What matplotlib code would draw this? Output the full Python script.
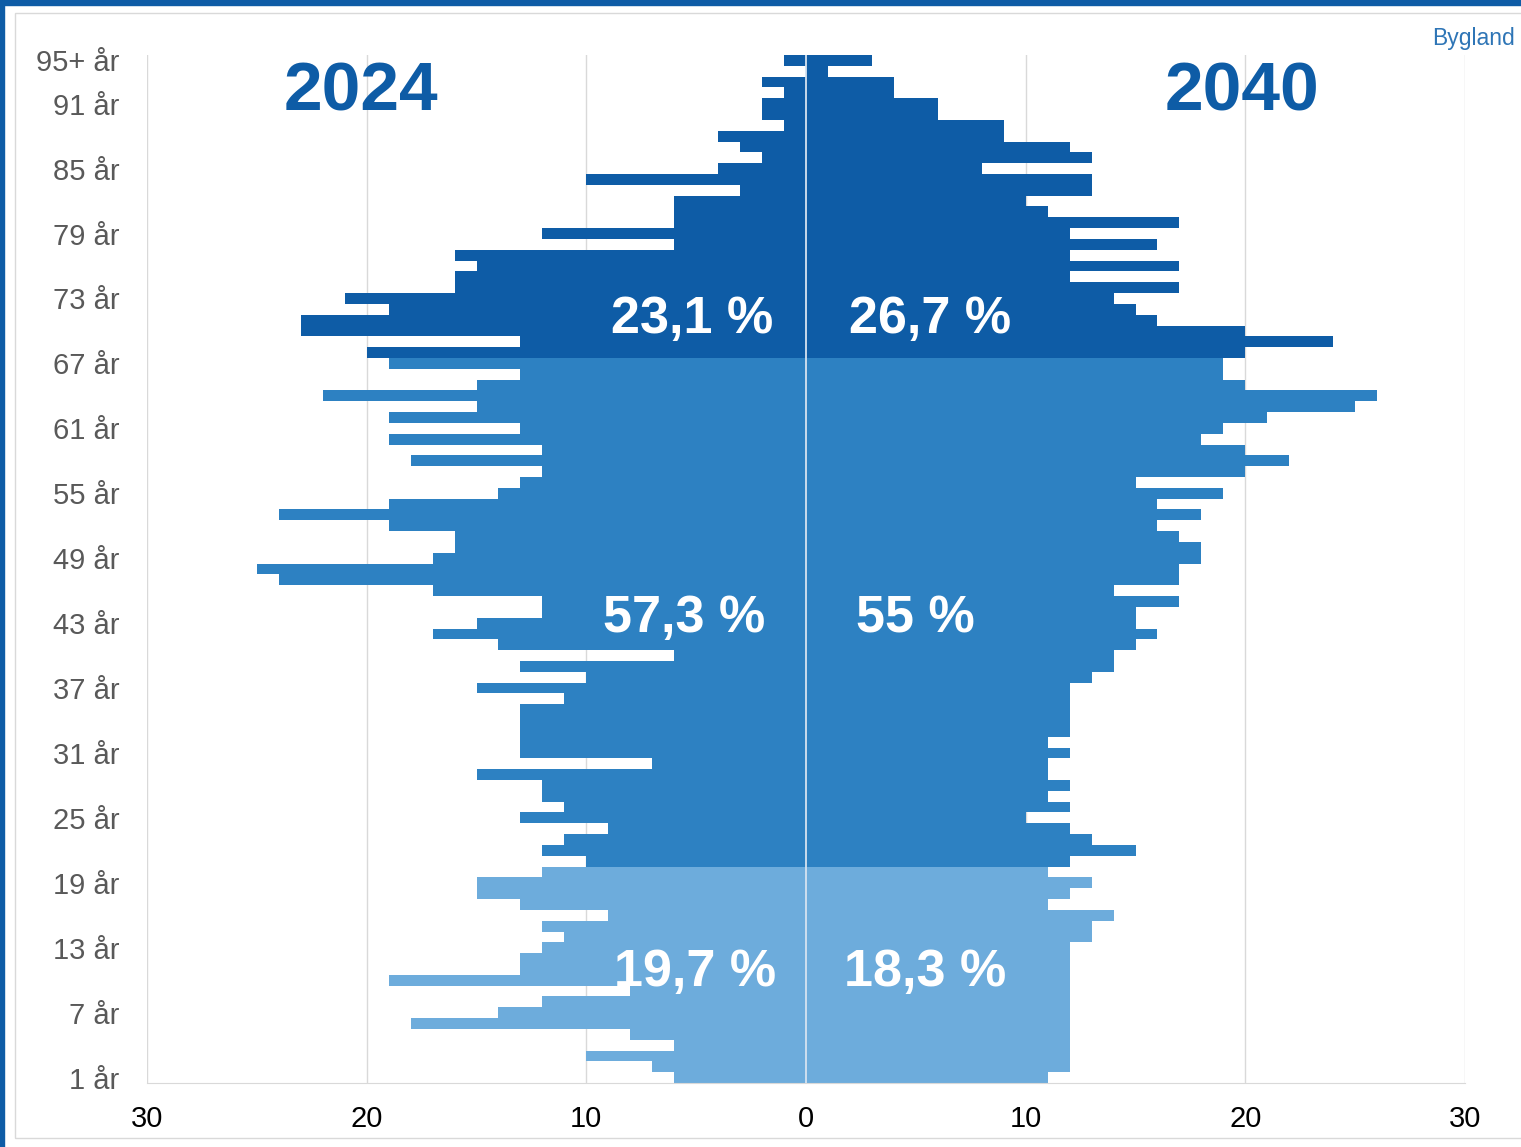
import numpy as np
import matplotlib.pyplot as plt
from matplotlib.patches import Rectangle

plt.rcParams['font.family'] = ['Liberation Sans', 'DejaVu Sans']

# categories bottom -> top (index 0 = "1 år")
ages = [f"{a} år" for a in range(1, 95)] + ["95+ år"]

# population 2024 (left side), bottom -> top
pop_2024 = [6, 7, 10, 6, 8, 18, 14, 12, 8, 19,
            13, 13, 12, 11, 12, 9, 13, 15, 15, 12,
            10, 12, 11, 9, 13, 11, 12, 12, 15, 7,
            13, 13, 13, 13, 13, 11, 15, 10, 13, 6,
            14, 17, 15, 12, 12, 17, 24, 25, 17, 16,
            16, 19, 24, 19, 14, 13, 12, 18, 12, 19,
            13, 19, 15, 22, 15, 13, 19, 20, 13, 23,
            23, 19, 21, 16, 16, 15, 16, 6, 12, 6,
            6, 6, 3, 10, 4, 2, 3, 4, 1, 2,
            2, 1, 2, 0, 1]

# population 2040 (right side), bottom -> top
pop_2040 = [11, 12, 12, 12, 12, 12, 12, 12, 12, 12,
            12, 12, 12, 13, 13, 14, 11, 12, 13, 11,
            12, 15, 13, 12, 10, 12, 11, 12, 11, 11,
            12, 11, 12, 12, 12, 12, 12, 13, 14, 14,
            15, 16, 15, 15, 17, 14, 17, 17, 18, 18,
            17, 16, 18, 16, 19, 15, 20, 22, 20, 18,
            19, 21, 25, 26, 20, 19, 19, 20, 24, 20,
            16, 15, 14, 17, 12, 17, 12, 16, 12, 17,
            11, 10, 13, 13, 8, 13, 12, 9, 9, 6,
            6, 4, 4, 1, 3]

tick_idx = list(range(0, 91, 6)) + [94]
x_ticks = [-30, -20, -10, 0, 10, 20, 30]
x_labels = ["30", "20", "10", "0", "10", "20", "30"]

share_2024 = ["19,7 %", "57,3 %", "23,1 %"]
share_2040 = ["18,3 %", "55 %", "26,7 %"]

c_young = "#6dacdc"
c_work = "#2d81c2"
c_old = "#0e5ca6"

y = np.arange(len(ages))
colors = [c_young if i < 20 else (c_work if i < 67 else c_old) for i in y]

fig = plt.figure(figsize=(15.21, 11.47), dpi=100)
ax = fig.add_axes([147 / 1521, 1 - 1083 / 1147, (1465 - 147) / 1521, (1083 - 55) / 1147])

ax.barh(y, -np.array(pop_2024), height=1.0, color=colors, zorder=2)
ax.barh(y, pop_2040, height=1.0, color=colors, zorder=2)
ax.axvline(0, color="#d6e3f0", lw=1.3, zorder=3)

ax.set_xlim(-30, 30)
ax.set_ylim(-0.5, len(ages) - 0.5)
ax.set_xticks(x_ticks)
ax.set_xticklabels(x_labels, fontsize=21, color="black")
ax.set_yticks(tick_idx)
ax.set_yticklabels([ages[i] for i in tick_idx], fontsize=21, color="#595959")
ax.tick_params(axis="both", length=0)
ax.tick_params(axis="x", pad=16)
ax.tick_params(axis="y", pad=20)

for xv in [-30, -20, -10, 10, 20, 30]:
    ax.axvline(xv, color="#d9d9d9", lw=1, zorder=1)
for s in ["top", "right", "left"]:
    ax.spines[s].set_visible(False)
ax.spines["bottom"].set_color("#d9d9d9")

# year titles
ax.text(-20.27, 91.0, "2024", ha="center", va="center", fontsize=50,
        fontweight="bold", color=c_old, zorder=4)
ax.text(19.86, 91.0, "2040", ha="center", va="center", fontsize=50,
        fontweight="bold", color=c_old, zorder=4)

# group shares
lab_y = [9.7, 42.4, 70.1]
left_x = [-5.05, -5.55, -5.18]
right_x = [5.41, 5.0, 5.64]
for i in range(3):
    ax.text(left_x[i], lab_y[i], share_2024[i], ha="center", va="center",
            fontsize=37.5, fontweight="bold", color="white", zorder=4)
    ax.text(right_x[i], lab_y[i], share_2040[i], ha="center", va="center",
            fontsize=37.5, fontweight="bold", color="white", zorder=4)

fig.text(1515 / 1521, 1 - 39 / 1147, "Bygland", ha="right", va="center",
         fontsize=16.5, color="#2e75b6")

# frame around the chart
fig.patches.append(Rectangle((0, 1 - 5 / 1147), 1, 5 / 1147, transform=fig.transFigure,
                             color="#0e5ca6", zorder=0))
fig.patches.append(Rectangle((0, 0), 4 / 1521, 1, transform=fig.transFigure,
                             color="#0e5ca6", zorder=0))
fig.patches.append(Rectangle((15 / 1521, 9 / 1147), 1.1, 1 - 22 / 1147,
                             transform=fig.transFigure, fill=False,
                             edgecolor="#d9d9d9", lw=1, zorder=0))

fig.savefig("out.png", dpi=100)
